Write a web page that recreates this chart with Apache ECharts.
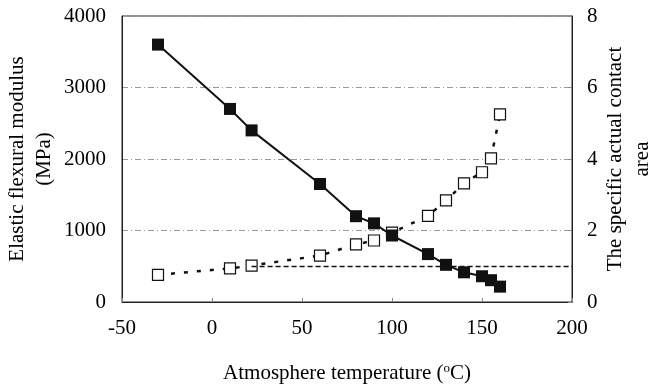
<!DOCTYPE html>
<html>
<head>
<meta charset="utf-8">
<script src="https://cdn.jsdelivr.net/npm/echarts@6/dist/echarts.min.js"></script>
<style>
  html, body { margin: 0; padding: 0; background: #fff; }
  #chart { width: 648px; height: 389px; }
</style>
</head>
<body>
<div id="chart"></div>
<script>
// temperatures (°C) shared by both series
const temps = [-30, 10, 22, 60, 80, 90, 100, 120, 130, 140, 150, 155, 160];
// elastic flexural modulus (MPa), left axis
const modulus = [3600, 2700, 2400, 1650, 1200, 1100, 930, 670, 520, 415, 360, 305, 215];
// specific actual contact area, right axis
const contactArea = [0.76, 0.94, 1.02, 1.3, 1.61, 1.72, 1.94, 2.41, 2.84, 3.32, 3.63, 4.02, 5.25];
// reference line (right axis value 1) with arrow at the right axis
const refLineStart = [22, 1];
const refLineEnd = [200, 1];

const font = 'Liberation Serif';
const chart = echarts.init(document.getElementById('chart'));

chart.setOption({
  backgroundColor: '#fff',
  animation: false,
  textStyle: { fontFamily: font, color: '#000' },
  grid: {
    left: 122, right: 76, top: 16, bottom: 87,
    outerBoundsMode: 'none', containLabel: false,
    show: true, borderColor: '#222', borderWidth: 1,
  },
  xAxis: {
    type: 'value',
    min: -50,
    max: 200,
    interval: 50,
    name: 'Atmosphere temperature ({sup|o}C)',
    nameLocation: 'middle',
    nameGap: 60,
    nameMoveOverlap: false,
    nameTextStyle: {
      fontFamily: font, fontSize: 21, color: '#000',
      rich: { sup: { fontFamily: font, fontSize: 13, verticalAlign: 'top', padding: [0, 0, 10, 0] } },
    },
    axisLine: { onZero: false, lineStyle: { color: '#222', width: 1 } },
    axisTick: { inside: true, length: 4, lineStyle: { color: '#888' } },
    axisLabel: { fontFamily: font, fontSize: 21, color: '#000', margin: 16 },
    splitLine: { show: false },
  },
  yAxis: [
    {
      type: 'value',
      min: 0,
      max: 4000,
      interval: 1000,
      name: 'Elastic flexural modulus\n(MPa)',
      nameLocation: 'middle',
      nameGap: 64,
      nameMoveOverlap: false,
      nameTextStyle: { fontFamily: font, fontSize: 21, color: '#000', lineHeight: 27 },
      axisLine: { show: true, onZero: false, lineStyle: { color: '#222', width: 1 } },
      axisTick: { show: false },
      axisLabel: { fontFamily: font, fontSize: 21, color: '#000', margin: 16, formatter: (v) => String(v) },
      splitLine: { show: true, lineStyle: { color: '#999', type: [6, 3, 1, 3], width: 1 } },
    },
    {
      type: 'value',
      min: 0,
      max: 8,
      interval: 2,
      position: 'right',
      name: 'The specific actual contact\narea',
      nameLocation: 'middle',
      nameGap: 30,
      nameMoveOverlap: false,
      nameTextStyle: { fontFamily: font, fontSize: 21, color: '#000', lineHeight: 27 },
      axisLine: { show: true, onZero: false, lineStyle: { color: '#222', width: 1 } },
      axisTick: { inside: true, length: 4, lineStyle: { color: '#888' } },
      axisLabel: { fontFamily: font, fontSize: 21, color: '#000', margin: 15 },
      splitLine: { show: false },
    },
  ],
  series: [
    {
      name: 'Modulus',
      type: 'line',
      yAxisIndex: 0,
      data: temps.map((t, i) => [t, modulus[i]]),
      symbol: 'rect',
      symbolSize: 12,
      itemStyle: { color: '#111' },
      lineStyle: { color: '#111', width: 2 },
      z: 3,
    },
    {
      name: 'Contact area',
      type: 'line',
      yAxisIndex: 1,
      data: temps.map((t, i) => [t, contactArea[i]]),
      symbol: 'rect',
      symbolSize: 11,
      itemStyle: { color: '#fff', borderColor: '#111', borderWidth: 1.2 },
      lineStyle: { color: '#111', width: 2.5, type: [4, 9] },
      markLine: {
        silent: true,
        symbol: ['none', 'arrow'],
        symbolSize: [0, 8],
        label: { show: false },
        lineStyle: { color: '#111', width: 1.3, type: [5, 3] },
        data: [[{ coord: refLineStart }, { coord: refLineEnd }]],
      },
      z: 2,
    },
  ],
});
</script>
</body>
</html>
